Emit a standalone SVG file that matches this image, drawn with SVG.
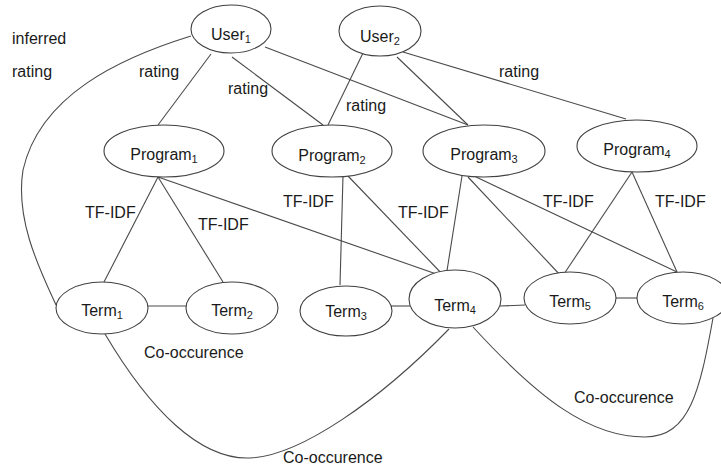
<svg xmlns="http://www.w3.org/2000/svg" width="721" height="471" viewBox="0 0 721 471">
  <style>
    .node ellipse { fill: #ffffff; stroke: #404040; stroke-width: 1.1; }
    .edge { fill: none; stroke: #4a4a4a; stroke-width: 1.1; }
    text { font-family: "Liberation Sans", Arial, sans-serif; font-size: 16px; fill: #1a1a1a; }
    .lbl { text-anchor: middle; }
    .sub { font-size: 11px; }
  </style>
  <rect width="721" height="471" fill="#ffffff"/>

  <!-- connectors -->
  <g id="connectors">
    <!-- ratings -->
    <line class="edge" x1="211" y1="54" x2="158" y2="125"/>
    <line class="edge" x1="232" y1="57" x2="323" y2="125"/>
    <line class="edge" x1="265" y1="47" x2="468" y2="125"/>
    <line class="edge" x1="363" y1="53" x2="328" y2="125"/>
    <line class="edge" x1="397" y1="57" x2="468" y2="125"/>
    <line class="edge" x1="403" y1="52" x2="626" y2="119"/>
    <!-- inferred rating -->
    <path class="edge" d="M191,36 C120,58 40,95 23,170 C15,220 40,270 56,305"/>
    <!-- TF-IDF -->
    <line class="edge" x1="158" y1="177" x2="104" y2="282"/>
    <line class="edge" x1="158" y1="177" x2="223" y2="282"/>
    <line class="edge" x1="158" y1="177" x2="445" y2="277"/>
    <line class="edge" x1="343" y1="176" x2="340" y2="285"/>
    <line class="edge" x1="348" y1="176" x2="445" y2="277"/>
    <line class="edge" x1="462" y1="176" x2="446" y2="277"/>
    <line class="edge" x1="468" y1="177" x2="562" y2="277"/>
    <line class="edge" x1="474" y1="176" x2="677" y2="272"/>
    <line class="edge" x1="632" y1="172" x2="562" y2="277"/>
    <line class="edge" x1="632" y1="172" x2="677" y2="272"/>
    <!-- co-occurence -->
    <line class="edge" x1="148" y1="306" x2="187" y2="306"/>
    <line class="edge" x1="391" y1="306" x2="410" y2="306"/>
    <line class="edge" x1="500" y1="306" x2="525" y2="305"/>
    <line class="edge" x1="615" y1="298" x2="638" y2="298"/>
    <path class="edge" d="M105,334 C150,410 200,460 250,458 C300,456 380,400 449,329"/>
    <path class="edge" d="M473,327 C540,400 590,437 645,437 C690,437 700,390 713,318"/>
  </g>

  <!-- edge labels -->
  <g id="edge-labels">
    <text x="12" y="44">inferred</text>
    <text x="12" y="77">rating</text>
    <text x="139" y="77">rating</text>
    <text x="228" y="94">rating</text>
    <text x="346" y="111">rating</text>
    <text x="499" y="77">rating</text>
    <text x="85" y="218">TF-IDF</text>
    <text x="198" y="230">TF-IDF</text>
    <text x="283" y="207">TF-IDF</text>
    <text x="398" y="218">TF-IDF</text>
    <text x="543" y="207">TF-IDF</text>
    <text x="655" y="207">TF-IDF</text>
    <text x="144" y="358">Co-occurence</text>
    <text x="283" y="463">Co-occurence</text>
    <text x="574" y="403">Co-occurence</text>
  </g>

  <!-- users -->
  <g id="user1" class="node">
    <ellipse cx="231" cy="29" rx="40" ry="24"/>
    <text class="lbl" x="231" y="40">User<tspan class="sub" dy="3">1</tspan></text>
  </g>
  <g id="user2" class="node">
    <ellipse cx="380" cy="31" rx="41" ry="25"/>
    <text class="lbl" x="380" y="42">User<tspan class="sub" dy="3">2</tspan></text>
  </g>

  <!-- programs -->
  <g id="program1" class="node">
    <ellipse cx="164" cy="151" rx="60" ry="26"/>
    <text class="lbl" x="164" y="160">Program<tspan class="sub" dy="3">1</tspan></text>
  </g>
  <g id="program2" class="node">
    <ellipse cx="332" cy="151" rx="60" ry="26"/>
    <text class="lbl" x="332" y="161">Program<tspan class="sub" dy="3">2</tspan></text>
  </g>
  <g id="program3" class="node">
    <ellipse cx="484" cy="151" rx="61" ry="26"/>
    <text class="lbl" x="484" y="160">Program<tspan class="sub" dy="3">3</tspan></text>
  </g>
  <g id="program4" class="node">
    <ellipse cx="637" cy="146" rx="60" ry="26"/>
    <text class="lbl" x="637" y="155">Program<tspan class="sub" dy="3">4</tspan></text>
  </g>

  <!-- terms -->
  <g id="term1" class="node">
    <ellipse cx="102" cy="308" rx="46" ry="26"/>
    <text class="lbl" x="102" y="316">Term<tspan class="sub" dy="3">1</tspan></text>
  </g>
  <g id="term2" class="node">
    <ellipse cx="232" cy="308" rx="46" ry="26"/>
    <text class="lbl" x="232" y="316">Term<tspan class="sub" dy="3">2</tspan></text>
  </g>
  <g id="term3" class="node">
    <ellipse cx="346" cy="311" rx="46" ry="25"/>
    <text class="lbl" x="346" y="317">Term<tspan class="sub" dy="3">3</tspan></text>
  </g>
  <g id="term4" class="node">
    <ellipse cx="455" cy="299" rx="46" ry="29"/>
    <text class="lbl" x="455" y="311">Term<tspan class="sub" dy="3">4</tspan></text>
  </g>
  <g id="term5" class="node">
    <ellipse cx="570" cy="298" rx="46" ry="26"/>
    <text class="lbl" x="570" y="307">Term<tspan class="sub" dy="3">5</tspan></text>
  </g>
  <g id="term6" class="node">
    <ellipse cx="683" cy="298" rx="46" ry="26"/>
    <text class="lbl" x="683" y="307">Term<tspan class="sub" dy="3">6</tspan></text>
  </g>
</svg>
